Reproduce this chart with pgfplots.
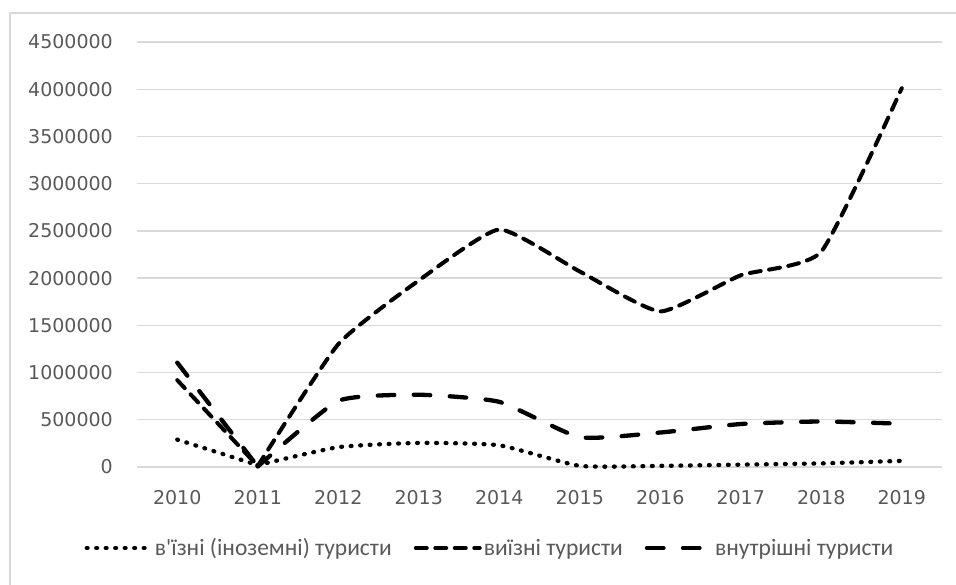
\documentclass[border=0pt]{standalone}
\usepackage{pgfplots}
\usepackage{pgfplotstable}
\pgfplotsset{compat=1.18}
\usepackage{fontspec}
\setmainfont{Carlito}
\newfontfamily\tickfont{DejaVu Sans}

\definecolor{gridgray}{HTML}{D9D9D9}
\definecolor{labelgray}{HTML}{595959}
\definecolor{framegray}{HTML}{D9D9D9}

% Tourist flows, 2010-2019 (year index 0 = 2010)
\pgfplotstableread{
year inbound outbound domestic
0    290000  920000   1105000
1    20000   10000    5000
2    210000  1300000  700000
3    255000  1975000  765000
4    230000  2515000  690000
5    12000   2070000  315000
6    12000   1647000  365000
7    25000   2030000  455000
8    38000   2280000  482000
9    65000   4010000  458000
}\tourists

\tikzset{
  inbound/.style={black, line width=4.3pt, line cap=round, dash pattern=on 0.8pt off 8.7pt},
  outbound/.style={black, line width=4pt, line cap=round, dash pattern=on 11pt off 8.5pt},
  domestic/.style={black, line width=4.3pt, line cap=round, dash pattern=on 16.5pt off 19.5pt},
}

\begin{document}
\begin{tikzpicture}
\useasboundingbox (-137pt,-118pt) rectangle (819pt,467pt);
\draw[framegray, line width=2pt] (-127pt,-140pt) -- (-127pt,454pt) -- (840pt,454pt);
\begin{axis}[
  at={(0pt,0pt)}, anchor=south west,
  scale only axis, width=805pt, height=425pt,
  xmin=-0.5, xmax=9.5, ymin=0, ymax=4500000,
  scaled y ticks=false,
  xtick={0,1,2,3,4,5,6,7,8,9},
  xticklabels={2010,2011,2012,2013,2014,2015,2016,2017,2018,2019},
  ytick={0,500000,1000000,1500000,2000000,2500000,3000000,3500000,4000000,4500000},
  yticklabels={0,500000,1000000,1500000,2000000,2500000,3000000,3500000,4000000,4500000},
  ymajorgrids,
  major grid style={gridgray, line width=1.3pt},
  axis line style={draw=none},
  major tick length=0pt,
  tick label style={font=\tickfont\fontsize{19}{19}\selectfont, text=labelgray},
  yticklabel style={inner sep=0pt, anchor=east, xshift=-24pt},
  xticklabel style={inner sep=0pt, anchor=north, yshift=-23pt},
  clip=false,
  legend columns=3,
  legend cell align=left,
  legend image code/.code={\draw[#1] (0pt,0pt) -- (64pt,0pt);},
  legend style={
    at={(0.4385,-0.1906)}, anchor=center,
    draw=none, fill=none, inner sep=0pt,
    font=\fontsize{23.5}{23.5}\selectfont, text=labelgray,
    /tikz/every even column/.append style={column sep=20pt},
  },
]
% 2010-2011 drawn straight, the rest smoothed
\addplot[inbound, forget plot, restrict x to domain=0:1] table[x=year, y=inbound] {\tourists};
\addplot[outbound, forget plot, restrict x to domain=0:1] table[x=year, y=outbound] {\tourists};
\addplot[domestic, forget plot, restrict x to domain=0:1] table[x=year, y=domestic] {\tourists};

\addplot[inbound, smooth, tension=0.3, restrict x to domain=1:9] table[x=year, y=inbound] {\tourists};
\addlegendentry{в\textquotesingle їзні (іноземні) туристи}
\addplot[outbound, smooth, tension=0.3, restrict x to domain=1:9] table[x=year, y=outbound] {\tourists};
\addlegendentry{виїзні туристи}
\addplot[domestic, smooth, tension=0.3, restrict x to domain=1:9] table[x=year, y=domestic] {\tourists};
\addlegendentry{внутрішні туристи}
\end{axis}
\end{tikzpicture}
\end{document}
